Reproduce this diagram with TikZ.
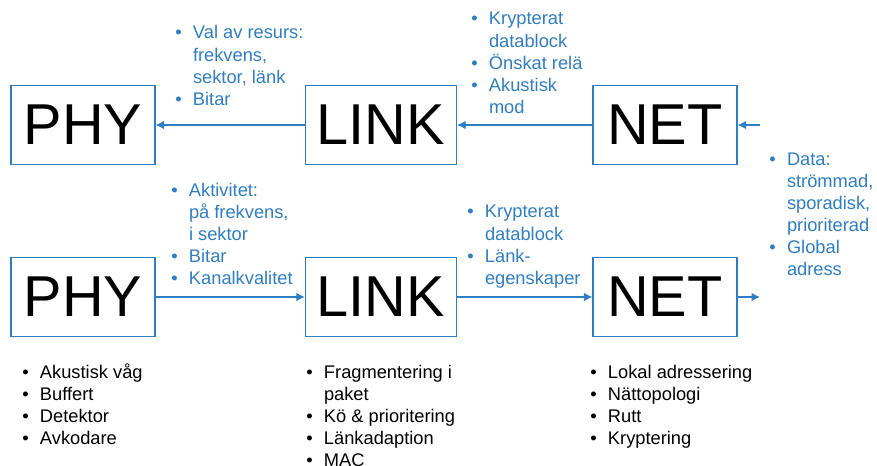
\documentclass[tikz,border=0pt]{standalone}
\usepackage{fontspec}
\setmainfont{Liberation Sans}
\usetikzlibrary{arrows.meta,positioning}
\definecolor{lblue}{RGB}{46,126,198}
\newcommand{\bl}{\makebox[12.6pt][l]{\textbullet}}

\begin{document}
\begin{tikzpicture}[x=0.025cm,y=-0.025cm,>={Latex[length=6pt,width=6pt]},
    layer/.style={draw=lblue,line width=0.8pt,minimum width=3.6cm,minimum height=1.975cm,
      inner sep=0pt,font=\fontsize{41}{44}\selectfont},
    msg/.style={anchor=base west,inner sep=0pt,text=lblue,font=\fontsize{13}{15.65}\selectfont},
    task/.style={msg,text=black},
    flow/.style={->,draw=lblue,line width=0.8pt}]
    \useasboundingbox (0,0) rectangle (877,466);
    % upper row: control towards the physical layer
    \node[layer] (phyT) at (83,125) {PHY};
    \node[layer,minimum width=3.78cm] (linkT) at (381,125) {LINK};
    \node[layer] (netT) at (665,125) {NET};
    \coordinate (netin) at (760,125);
    \draw[flow] (netin) -- (netT);
    \draw[flow] (netT) -- (linkT);
    \draw[flow] (linkT) -- (phyT);
    % lower row: indications upwards
    \node[layer] (phyB) at (83,297) {PHY};
    \node[layer,minimum width=3.78cm] (linkB) at (381,297) {LINK};
    \node[layer] (netB) at (665,297) {NET};
    \coordinate (netout) at (760,297);
    \draw[flow] (phyB) -- (linkB);
    \draw[flow] (linkB) -- (netB);
    \draw[flow] (netB) -- (netout);
    % messages
    \node[msg] (phyctl) at (175,39) {\begin{tabular}[t]{@{}l@{}l@{}}
      \bl&Val av resurs:\\ &frekvens,\\ &sektor, länk\\ \bl&Bitar\end{tabular}};
    \node[msg] (linkctl) at (471,25) {\begin{tabular}[t]{@{}l@{}l@{}}
      \bl&Krypterat\\ &datablock\\ \bl&Önskat relä\\ \bl&Akustisk\\ &mod\end{tabular}};
    \node[msg] (netctl) at (769,165) {\begin{tabular}[t]{@{}l@{}l@{}}
      \bl&Data:\\ &strömmad,\\ &sporadisk,\\ &prioriterad\\ \bl&Global\\ &adress\end{tabular}};
    \node[msg] (phyind) at (171,196) {\begin{tabular}[t]{@{}l@{}l@{}}
      \bl&Aktivitet:\\ &på frekvens,\\ &i sektor\\ \bl&Bitar\\ \bl&Kanalkvalitet\end{tabular}};
    \node[msg] (linkind) at (467,218) {\begin{tabular}[t]{@{}l@{}l@{}}
      \bl&Krypterat\\ &datablock\\ \bl&Länk-\\ &egenskaper\end{tabular}};
    % functions of each layer
    \node[task] (phyfun) at (22,378) {\begin{tabular}[t]{@{}l@{}l@{}}
      \bl&Akustisk våg\\ \bl&Buffert\\ \bl&Detektor\\ \bl&Avkodare\end{tabular}};
    \node[task] (linkfun) at (306,378) {\begin{tabular}[t]{@{}l@{}l@{}}
      \bl&Fragmentering i\\ &paket\\ \bl&Kö \& prioritering\\ \bl&Länkadaption\\ \bl&MAC\end{tabular}};
    \node[task] (netfun) at (590,378) {\begin{tabular}[t]{@{}l@{}l@{}}
      \bl&Lokal adressering\\ \bl&Nättopologi\\ \bl&Rutt\\ \bl&Kryptering\end{tabular}};
  \end{tikzpicture}
\end{document}
